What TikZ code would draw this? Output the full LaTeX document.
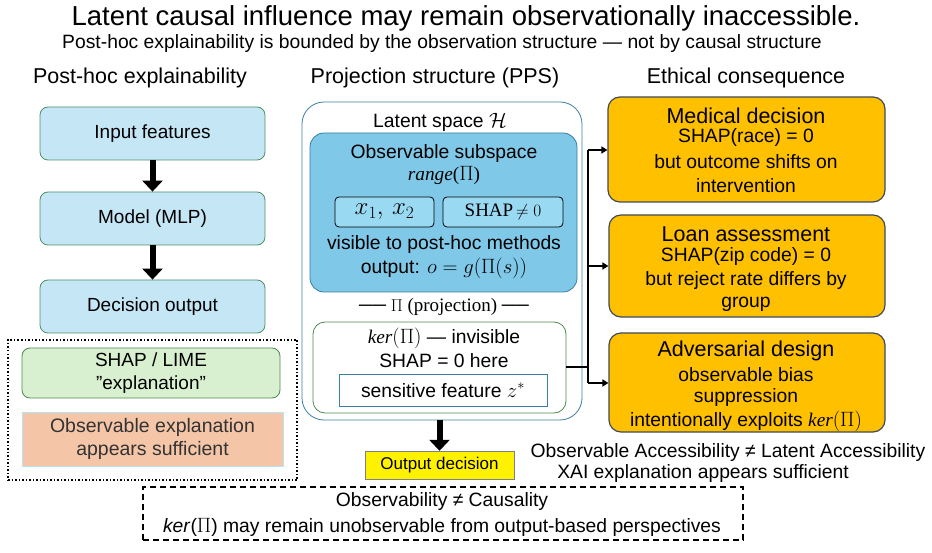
\documentclass[tikz,border=0pt]{standalone}
\usepackage{fontspec}
\setmainfont{Liberation Sans}
\newfontfamily\serif{Liberation Serif}
\usetikzlibrary{arrows.meta}
\definecolor{lb}{HTML}{C5E6F5}
\definecolor{lbd}{HTML}{4F8F6A}
\definecolor{obs}{HTML}{7FC8E8}
\definecolor{obsd}{HTML}{3A7FA0}
\definecolor{inb}{HTML}{99D9F2}
\definecolor{gr}{HTML}{D8F0D0}
\definecolor{grd}{HTML}{4E8A50}
\definecolor{orl}{HTML}{F5C5A8}
\definecolor{ora}{HTML}{FFC000}
\definecolor{orad}{HTML}{3E4A5A}
\newcommand{\sit}[1]{{\serif\itshape #1}}
\begin{document}
\begin{tikzpicture}[x=1pt,y=-1pt,
 box/.style={draw,rounded corners=8pt,line width=0.8pt},
 lbox/.style={box,fill=lb,draw=lbd,font=\fontsize{19}{22}\selectfont},
 big/.style={line width=6pt,-{Triangle[length=11pt,width=20pt]}},
 thin/.style={line width=2pt,-{Triangle[length=6pt,width=7pt]}},
 t/.style={font=\fontsize{19.3}{22}\selectfont,inner sep=0pt},
 ht/.style={font=\fontsize{21.5}{25}\selectfont},
 eth/.style={box,fill=ora,draw=orad,line width=1.2pt,rounded corners=12pt}]
\useasboundingbox (0,0) rectangle (932,553);
\node[font=\fontsize{27.5}{30}\selectfont] (title) at (466,18) {Latent causal influence may remain observationally inaccessible.};
\node[font=\fontsize{19.3}{22}\selectfont] (sub) at (442,44) {Post-hoc explainability is bounded by the observation structure — not by causal structure};
\node[font=\fontsize{21.5}{25}\selectfont] (h1) at (140,78) {Post-hoc explainability};
\node[font=\fontsize{21.5}{25}\selectfont] (h2) at (435,78) {Projection structure (PPS)};
\node[font=\fontsize{21.5}{25}\selectfont] (h3) at (746,78) {Ethical consequence};
% left
\node[lbox,minimum width=225pt,minimum height=53pt] (in) at (152.5,133.5) {Input features};
\node[lbox,minimum width=225pt,minimum height=53pt] (mlp) at (152.5,218.5) {Model (MLP)};
\node[lbox,minimum width=225pt,minimum height=53pt] (dec) at (152.5,306.5) {Decision output};
\draw[big] (in.south) -- (mlp.north);
\draw[big] (mlp.south) -- (dec.north);
\node[draw,dotted,line width=1.5pt,minimum width=289pt,minimum height=140pt] (dot) at (152.5,410) {};
\node[box,fill=gr,draw=grd,minimum width=258pt,minimum height=50pt,align=center,font=\fontsize{19}{23}\selectfont] (shap) at (151,373) {SHAP / LIME\\\symbol{34}explanation\symbol{34}};
\node[draw=cyan!30,fill=orl,minimum width=261pt,minimum height=54pt,align=center,font=\fontsize{19.5}{23}\selectfont,text=black!80] (suff) at (152.5,439) {Observable explanation\\appears sufficient};
% middle
\node[box,draw=obsd,rounded corners=22pt,minimum width=280pt,minimum height=318pt] (lat) at (442,261) {};
\node[t] (latl) at (440,122) {Latent space $\mathcal{H}$};
\node[box,fill=obs,draw=obsd,rounded corners=14pt,minimum width=267pt,minimum height=159pt] (obs) at (443.5,212.5) {};
\node[t] (obsl) at (444,154) {Observable subspace};
\node[t] (rng) at (444,175) {\sit{range}{\serif(}$\Pi${\serif)}};
\node[box,fill=inb,draw=black,rounded corners=4pt,minimum width=99pt,minimum height=30pt,font=\fontsize{26}{28}\selectfont] (x12) at (384.5,212) {$x_1,\,x_2$};
\node[box,fill=inb,draw=black,rounded corners=4pt,minimum width=120pt,minimum height=30pt,font=\fontsize{19}{20}\selectfont] (sn) at (503,212) {{\serif SHAP}$\,\neq 0$};
\node[t] (vis) at (444,245) {visible to post-hoc methods};
\node[t] (outp) at (444,268) {output: $o=g(\Pi(s))$};
\node[t,font=\fontsize{19}{22}\selectfont\serif] (proj) at (444,307) {── $\Pi$ (projection) ──};
\node[box,draw=grd,rounded corners=12pt,minimum width=253pt,minimum height=91pt] (ker) at (439.5,367.5) {};
\node[t] (kerl) at (444,338) {\sit{ker}$(\Pi)$ — invisible};
\node[t] (sh0) at (444,361) {SHAP = 0 here};
\node[draw=obsd,line width=0.8pt,minimum width=208pt,minimum height=32pt,t] (sens) at (443,390) {sensitive feature $z^{*}$};
\node[draw=gray,fill=yellow,minimum width=149pt,minimum height=28pt,font=\fontsize{17}{20}\selectfont] (od) at (439.5,465) {Output decision};
\coordinate (ls) at (lat.south -| od.north);
\draw[big] (ls) -- (od.north);
% right
\node[eth,minimum width=277pt,minimum height=105pt] (med) at (746.5,149.5) {};
\node[ht] (medt) at (746,116) {Medical decision};
\node[t] (m1) at (746,138) {SHAP(race) = 0};
\node[t] (m2) at (746,162) {but outcome shifts on};
\node[t] (m3) at (746,186) {intervention};
\node[eth,minimum width=276pt,minimum height=102pt] (loan) at (747,266) {};
\node[ht] (loant) at (746,234) {Loan assessment};
\node[t] (l1) at (746,257) {SHAP(zip code) = 0};
\node[t] (l2) at (746,281) {but reject rate differs by};
\node[t] (l3) at (746,304) {group};
\node[eth,minimum width=276pt,minimum height=99pt] (adv) at (747,382.5) {};
\node[ht] (advt) at (746,351) {Adversarial design};
\node[t] (a1) at (746,375) {observable bias};
\node[t] (a2) at (746,398) {suppression};
\node[t] (a3) at (746,421) {intentionally exploits \sit{ker}$(\Pi)$};
\coordinate (j) at (588,367);
\draw[line width=2pt] (ker.east |- j) -- (j);
\draw[line width=2pt] (588,150) -- (588,383);
\draw[thin] (588,150) -- (med.west |- 0,150);
\draw[thin] (588,266) -- (loan.west);
\draw[thin] (588,383) -- (adv.west |- 0,383);
\node[t] (oa) at (728,453) {Observable Accessibility ≠ Latent Accessibility};
\node[t] (xai) at (703,474) {XAI explanation appears sufficient};
\node[draw,dash pattern=on 6pt off 4pt,line width=1.5pt,minimum width=600pt,minimum height=53pt] (dash) at (443,513.5) {};
\node[t] (c1) at (442,502) {Observability ≠ Causality};
\node[t] (c2) at (442,527) {\textit{ker}({\serif$\Pi$}) may remain unobservable from output-based perspectives};
\end{tikzpicture}
\end{document}
